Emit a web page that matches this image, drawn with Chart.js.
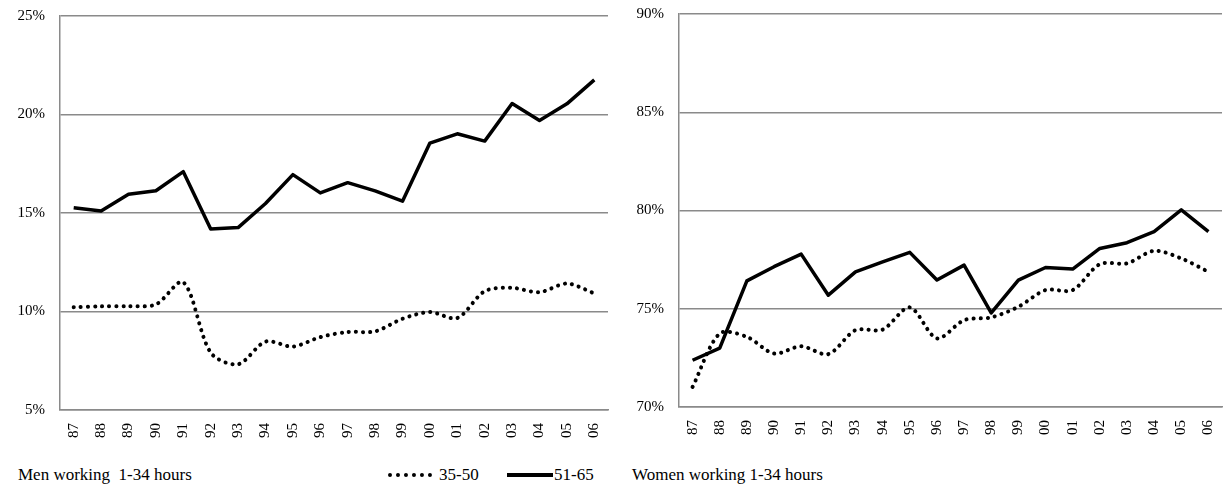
<!DOCTYPE html>
<html>
<head>
<meta charset="utf-8">
<script src="https://cdn.jsdelivr.net/npm/chart.js@4.4.1/dist/chart.umd.min.js"></script>
<style>
body{margin:0;background:#fff;width:1225px;height:489px;overflow:hidden;position:relative;font-family:"Liberation Serif","Times New Roman","DejaVu Serif",serif;color:#000}
.wrap{position:absolute;top:0;height:450px}
#leftWrap{left:0;width:612px}
#rightWrap{left:612px;width:613px}
.cap{position:absolute;top:464px;font-size:17px;line-height:22px;white-space:nowrap}
.key{position:absolute;top:464px;font-size:17px;line-height:22px;white-space:nowrap;display:flex;align-items:center}
.dots{display:inline-block;width:44px;border-top:4px dotted #000;margin-right:7px}
.solid{display:inline-block;width:46px;border-top:4px solid #000;margin-right:1px}
</style>
</head>
<body>
<div class="wrap" id="leftWrap"><canvas id="menChart"></canvas></div>
<div class="wrap" id="rightWrap"><canvas id="womenChart"></canvas></div>
<div class="cap" style="left:18px">Men working&nbsp; 1-34 hours</div>
<div class="key" style="left:388px"><span class="dots"></span>35-50</div>
<div class="key" style="left:507px"><span class="solid"></span>51-65</div>
<div class="cap" style="left:632px">Women working 1-34 hours</div>
<script>
const years=['87','88','89','90','91','92','93','94','95','96','97','98','99','00','01','02','03','04','05','06'];
const men3550=[10.22,10.26,10.27,10.36,11.49,7.91,7.32,8.47,8.22,8.70,8.96,8.99,9.63,9.97,9.67,11.03,11.20,10.98,11.42,10.92];
const men5165=[15.27,15.10,15.95,16.13,17.10,14.19,14.26,15.48,16.95,16.02,16.54,16.12,15.60,18.55,19.02,18.65,20.56,19.70,20.54,21.76];
const women3550=[71.02,73.74,73.57,72.72,73.09,72.69,73.91,73.94,75.07,73.49,74.42,74.56,75.10,75.95,75.95,77.27,77.31,77.95,77.56,76.88];
const women5165=[72.38,73.00,76.42,77.14,77.78,75.69,76.88,77.39,77.87,76.46,77.22,74.79,76.46,77.10,77.02,78.07,78.36,78.92,80.03,78.92];
const menTicks=[5,10,15,20,25];
const womenTicks=[70,75,80,85,90];

const FONT='"Liberation Serif","Times New Roman","DejaVu Serif",serif';
const GRID='#8a8a8a';

function makeChart(id,dotted,solid,ticks,opt){
  return new Chart(document.getElementById(id),{
    type:'line',
    data:{labels:years,datasets:[
      {label:'35-50',data:dotted,borderColor:'#000',borderWidth:4,borderDash:[0.1,7],borderCapStyle:'round',pointRadius:0,tension:0.3,fill:false},
      {label:'51-65',data:solid,borderColor:'#000',borderWidth:3.5,borderJoinStyle:'round',pointRadius:0,tension:0,fill:false}
    ]},
    options:{
      responsive:true,maintainAspectRatio:false,animation:false,
      layout:{padding:{top:opt.top,right:opt.right,left:0,bottom:0}},
      plugins:{legend:{display:false},tooltip:{enabled:false}},
      scales:{
        x:{type:'category',offset:true,grid:{display:false},border:{display:true,color:GRID,width:1.5},
           ticks:{color:'#000',font:{family:FONT,size:15},minRotation:90,maxRotation:90,padding:5,autoSkip:false},
           afterFit:s=>{s.height=opt.xh;s.paddingLeft=0;s.paddingRight=0;}},
        y:{min:ticks[0],max:ticks[ticks.length-1],grid:{color:GRID,lineWidth:1.5,drawTicks:false},border:{display:true,color:GRID,width:1.5},
           afterBuildTicks:s=>{s.ticks=ticks.map(v=>({value:v}));},
           ticks:{color:'#000',font:{family:FONT,size:15},padding:15,callback:v=>v+'%'},
           afterFit:s=>{s.width=opt.yw;s.paddingTop=0;s.paddingBottom=0;}}
      }
    }
  });
}
makeChart('menChart',men3550,men5165,menTicks,{top:16,right:4,xh:40,yw:60});
makeChart('womenChart',women3550,women5165,womenTicks,{top:14,right:3,xh:43,yw:67});
</script>
</body>
</html>
